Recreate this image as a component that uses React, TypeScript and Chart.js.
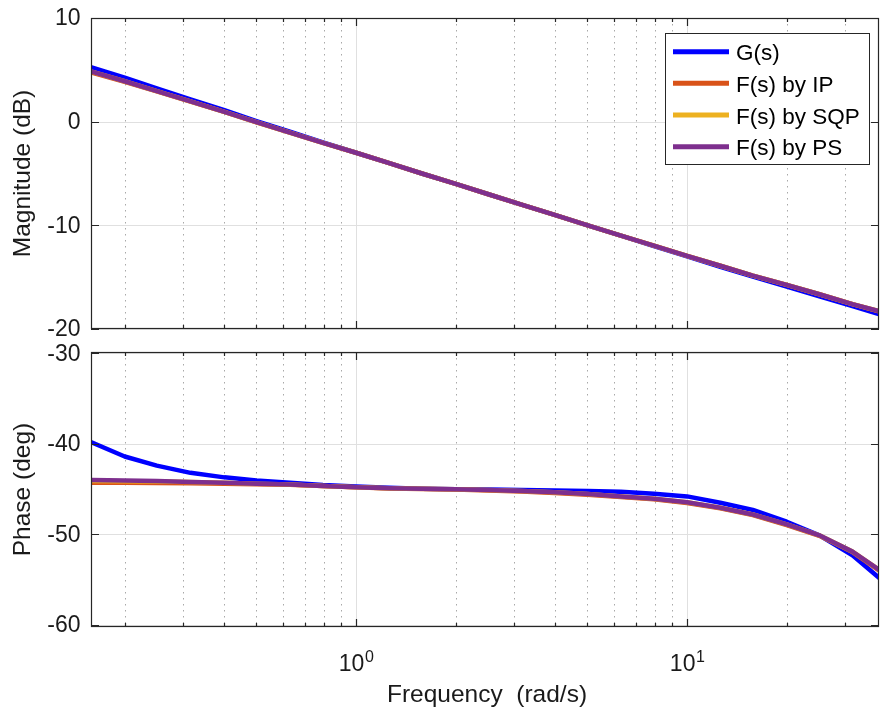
import { useEffect, useRef } from "react";
import { Chart, registerables } from "chart.js";

Chart.register(...registerables);

// ---------- data ----------
const freq = [0.158, 0.2, 0.25, 0.316, 0.4, 0.5, 0.631, 0.794, 1, 1.26, 1.58, 2, 2.51, 3.16, 3.98, 5.01, 6.31, 7.94, 10, 12.6, 15.8, 20, 25.1, 31.6, 39.8];

const magG = [5.26, 4.25, 3.2, 2.15, 1.1, 0.05, -0.97, -2.0, -3.0, -4.0, -5.0, -6.0, -7.0, -8.0, -9.0, -10.0, -11.0, -12.0, -13.0, -14.0, -14.95, -15.9, -16.85, -17.8, -18.75];
const magIP = [4.75, 3.85, 2.92, 1.93, 0.94, -0.06, -1.06, -2.05, -3.0, -4.0, -5.0, -6.0, -7.0, -8.0, -9.0, -10.0, -11.0, -11.95, -12.95, -13.9, -14.85, -15.75, -16.65, -17.6, -18.47];
const magSQP = [4.85, 3.9, 2.95, 1.95, 0.95, -0.05, -1.05, -2.05, -3.0, -4.0, -5.0, -6.0, -7.0, -8.0, -9.0, -10.0, -11.0, -11.95, -12.95, -13.9, -14.85, -15.75, -16.65, -17.6, -18.45];
const magPS = [4.85, 3.9, 2.95, 1.95, 0.95, -0.05, -1.05, -2.05, -3.0, -4.0, -5.0, -6.0, -7.0, -8.0, -9.0, -10.0, -11.0, -11.95, -12.95, -13.9, -14.85, -15.75, -16.65, -17.6, -18.45];

const phG = [-39.8, -41.4, -42.4, -43.2, -43.7, -44.05, -44.3, -44.55, -44.7, -44.85, -44.95, -45.0, -45.05, -45.1, -45.15, -45.2, -45.3, -45.5, -45.8, -46.5, -47.3, -48.6, -50.1, -52.3, -55.4];
const phIP = [-44.3, -44.3, -44.32, -44.35, -44.4, -44.45, -44.52, -44.65, -44.8, -44.92, -44.98, -45.05, -45.15, -45.27, -45.42, -45.62, -45.87, -46.12, -46.52, -47.12, -47.87, -48.97, -50.15, -51.95, -54.5];
const phSQP = [-44.1, -44.12, -44.15, -44.22, -44.3, -44.4, -44.5, -44.65, -44.8, -44.9, -44.95, -45.0, -45.1, -45.2, -45.35, -45.55, -45.8, -46.05, -46.45, -47.05, -47.8, -48.9, -50.1, -51.9, -54.4];
const phPS = [-44.0, -44.05, -44.1, -44.2, -44.3, -44.4, -44.5, -44.65, -44.8, -44.9, -44.95, -45.0, -45.1, -45.2, -45.35, -45.55, -45.8, -46.05, -46.45, -47.05, -47.8, -48.9, -50.1, -51.9, -54.4];

const seriesNames = ["G(s)", "F(s) by IP", "F(s) by SQP", "F(s) by PS"];
const seriesColors = ["#0000FF", "#D95319", "#EDB120", "#7E2F8E"];

const magTicks = [-20, -10, 0, 10];
const phaseTicks = [-60, -50, -40, -30];
const majorFreqTicks = [1, 10];
const majorFreqExp = ["0", "1"];
const minorFreqTicks = [0.2, 0.3, 0.4, 0.5, 0.6, 0.7, 0.8, 0.9, 2, 3, 4, 5, 6, 7, 8, 9, 20, 30];

const FREQ_MIN = 0.1582;
const FREQ_MAX = 38.0;

const FONT = "'Liberation Sans', Arial, Helvetica, sans-serif";
const AXIS_COLOR = "#262626";

type PanelOpts = {
  yTicks: number[];
  yTitle: string;
  showXLabels: boolean;
  showLegend: boolean;
};

function makePlugin(o: PanelOpts) {
  return {
    id: "bodeDecor",
    beforeDatasetsDraw(chart: any) {
      const { ctx, chartArea: a, scales } = chart;
      const xs = scales.x;
      const ys = scales.y;
      ctx.save();
      ctx.lineWidth = 1;
      // minor dotted x grid
      ctx.strokeStyle = "rgba(140,140,140,0.75)";
      ctx.setLineDash([1.5, 4.5]);
      for (const v of minorFreqTicks) {
        const px = Math.round(xs.getPixelForValue(v)) + 0.5;
        ctx.beginPath();
        ctx.moveTo(px, a.top);
        ctx.lineTo(px, a.bottom);
        ctx.stroke();
      }
      ctx.setLineDash([]);
      ctx.strokeStyle = "#e0e0e0";
      for (const v of majorFreqTicks) {
        const px = Math.round(xs.getPixelForValue(v)) + 0.5;
        ctx.beginPath();
        ctx.moveTo(px, a.top);
        ctx.lineTo(px, a.bottom);
        ctx.stroke();
      }
      for (const v of o.yTicks) {
        const py = Math.round(ys.getPixelForValue(v)) + 0.5;
        ctx.beginPath();
        ctx.moveTo(a.left, py);
        ctx.lineTo(a.right, py);
        ctx.stroke();
      }
      ctx.restore();
    },
    afterDatasetsDraw(chart: any) {
      const { ctx, chartArea: a, scales } = chart;
      const xs = scales.x;
      const ys = scales.y;
      ctx.save();
      // box
      ctx.strokeStyle = AXIS_COLOR;
      ctx.lineWidth = 1.2;
      ctx.strokeRect(a.left + 0.5, a.top + 0.5, a.right - a.left - 1, a.bottom - a.top - 1);
      // x ticks (inward, top and bottom)
      const tick = (px: number, len: number) => {
        ctx.beginPath();
        ctx.moveTo(px, a.bottom);
        ctx.lineTo(px, a.bottom - len);
        ctx.moveTo(px, a.top);
        ctx.lineTo(px, a.top + len);
        ctx.stroke();
      };
      for (const v of minorFreqTicks) tick(Math.round(xs.getPixelForValue(v)) + 0.5, 4);
      for (const v of majorFreqTicks) tick(Math.round(xs.getPixelForValue(v)) + 0.5, 8);
      // y ticks
      for (const v of o.yTicks) {
        const py = Math.round(ys.getPixelForValue(v)) + 0.5;
        ctx.beginPath();
        ctx.moveTo(a.left, py);
        ctx.lineTo(a.left + 8, py);
        ctx.moveTo(a.right, py);
        ctx.lineTo(a.right - 8, py);
        ctx.stroke();
      }
      // y tick labels
      ctx.fillStyle = "#1a1a1a";
      ctx.font = `23px ${FONT}`;
      ctx.textAlign = "right";
      ctx.textBaseline = "middle";
      for (const v of o.yTicks) {
        const py = ys.getPixelForValue(v);
        ctx.fillText(String(v), a.left - 10.5, py + 1);
      }
      // y title
      ctx.save();
      ctx.font = `24.5px ${FONT}`;
      ctx.textAlign = "center";
      ctx.textBaseline = "alphabetic";
      ctx.translate(29.5, (a.top + a.bottom) / 2);
      ctx.rotate(-Math.PI / 2);
      ctx.fillText(o.yTitle, 0, 0);
      ctx.restore();
      // x tick labels + title
      if (o.showXLabels) {
        majorFreqTicks.forEach((v, i) => {
          const px = xs.getPixelForValue(v);
          ctx.font = `23px ${FONT}`;
          const wb = ctx.measureText("10").width;
          ctx.font = `16px ${FONT}`;
          const we = ctx.measureText(majorFreqExp[i]).width;
          const x0 = px - (wb + we) / 2;
          ctx.textAlign = "left";
          ctx.textBaseline = "alphabetic";
          ctx.font = `23px ${FONT}`;
          ctx.fillText("10", x0, a.bottom + 43.7);
          ctx.font = `16px ${FONT}`;
          ctx.fillText(majorFreqExp[i], x0 + wb + 0.5, a.bottom + 34.7);
        });
        ctx.font = `24.5px ${FONT}`;
        ctx.textAlign = "center";
        ctx.textBaseline = "alphabetic";
        ctx.fillText("Frequency  (rad/s)", (a.left + a.right) / 2 + 2, a.bottom + 74.7);
      }
      // legend
      if (o.showLegend) {
        const lx = 665.5, ly = 33.5, lw = 204, lh = 131;
        ctx.fillStyle = "#ffffff";
        ctx.fillRect(lx, ly, lw, lh);
        ctx.strokeStyle = AXIS_COLOR;
        ctx.lineWidth = 1;
        ctx.strokeRect(lx, ly, lw, lh);
        const rows = [51.7, 83.3, 115, 146.7];
        seriesNames.forEach((name, i) => {
          ctx.strokeStyle = seriesColors[i];
          ctx.lineWidth = 5;
          ctx.beginPath();
          ctx.moveTo(673, rows[i]);
          ctx.lineTo(729, rows[i]);
          ctx.stroke();
          ctx.fillStyle = "#000";
          ctx.font = `22.5px ${FONT}`;
          ctx.textAlign = "left";
          ctx.textBaseline = "middle";
          ctx.fillText(name, 736, rows[i] + 2.5);
        });
      }
      ctx.restore();
    },
  };
}

function makeDatasets(series: number[][]) {
  return series.map((vals, i) => ({
    label: seriesNames[i],
    data: freq.map((f, j) => ({ x: f, y: vals[j] })),
    borderColor: seriesColors[i],
    backgroundColor: seriesColors[i],
    borderWidth: 4.5,
    pointRadius: 0,
    tension: 0,
    fill: false,
    clip: 0,
    borderJoinStyle: "round" as const,
    order: 4 - i,
  }));
}

function makeConfig(series: number[][], yMin: number, yMax: number, padTop: number, xHeight: number, o: PanelOpts): any {
  return {
    type: "line",
    data: { datasets: makeDatasets(series) },
    options: {
      animation: false,
      responsive: false,
      devicePixelRatio: 1,
      parsing: true,
      layout: { padding: { left: 0, right: 1, top: padTop, bottom: 0 } },
      plugins: { legend: { display: false }, tooltip: { enabled: false } },
      events: [],
      scales: {
        x: {
          type: "logarithmic",
          min: FREQ_MIN,
          max: FREQ_MAX,
          grid: { display: false },
          border: { display: false },
          ticks: { display: false },
          afterFit: (s: any) => {
            s.height = xHeight;
          },
        },
        y: {
          type: "linear",
          min: yMin,
          max: yMax,
          grid: { display: false },
          border: { display: false },
          ticks: { display: false },
          afterFit: (s: any) => {
            s.width = 91;
          },
        },
      },
    },
    plugins: [makePlugin(o)],
  };
}

export default function App() {
  const topRef = useRef<HTMLCanvasElement>(null);
  const botRef = useRef<HTMLCanvasElement>(null);

  useEffect(() => {
    const c1 = new Chart(
      topRef.current!,
      makeConfig([magG, magIP, magSQP, magPS], -20, 10, 18, 11, {
        yTicks: magTicks,
        yTitle: "Magnitude (dB)",
        showXLabels: false,
        showLegend: true,
      })
    );
    const c2 = new Chart(
      botRef.current!,
      makeConfig([phG, phIP, phSQP, phPS], -60.22, -29.86, 12, 85, {
        yTicks: phaseTicks,
        yTitle: "Phase (deg)",
        showXLabels: true,
        showLegend: false,
      })
    );
    return () => {
      c1.destroy();
      c2.destroy();
    };
  }, []);

  return (
    <div style={{ position: "absolute", left: 0, top: 0, width: 880, height: 712, background: "#fff" }}>
      <canvas ref={topRef} width={880} height={340} style={{ display: "block", width: 880, height: 340 }} />
      <canvas ref={botRef} width={880} height={372} style={{ display: "block", width: 880, height: 372 }} />
    </div>
  );
}
